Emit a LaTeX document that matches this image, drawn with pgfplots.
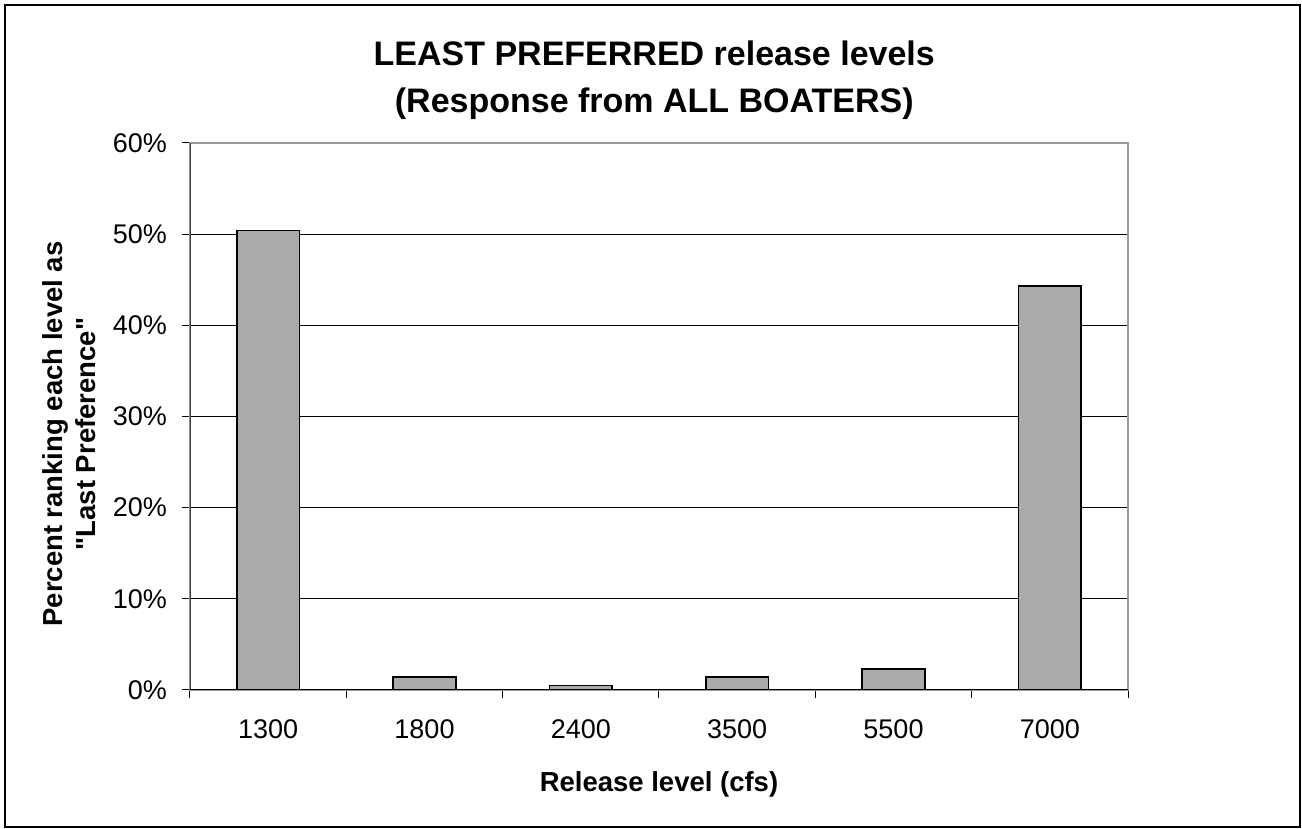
\documentclass[border=0pt]{standalone}
\usepackage{fontspec}
\setmainfont{Liberation Sans}[Ligatures=TeXOff]
\usepackage{pgfplots}
\pgfplotsset{compat=1.18}
\definecolor{barfill}{RGB}{170,170,170}
\begin{document}
\begin{tikzpicture}[x=1pt,y=1pt]
\useasboundingbox (-95pt,-69.5pt) rectangle (556pt,345pt);
\draw[line width=1.2pt] (-92.5pt,-68.5pt) rectangle (555pt,342.5pt);
\begin{axis}[
  at={(0pt,0pt)}, anchor=south west,
  scale only axis, width=469pt, height=273.5pt,
  xmin=-0.5, xmax=5.5, ymin=0, ymax=60,
  axis line style={draw=gray!80, line width=0.6pt},
  ytick={0,10,...,60},
  yticklabel={\pgfmathprintnumber{\tick}\%},
  ytick pos=left,
  tick align=outside,
  major tick length=4pt,
  tick style={black, line width=0.5pt},
  ymajorgrids, grid style={black, line width=0.5pt},
  xtick={-0.5,0.5,...,5.5}, xticklabels={},
  xtick pos=bottom,
  extra x ticks={0,1,2,3,4,5},
  extra x tick labels={1300,1800,2400,3500,5500,7000},
  extra x tick style={major tick length=0pt, grid=none, xticklabel style={yshift=-11.5pt}},
  ticklabel style={font=\fontsize{13.5}{16}\selectfont, black},
  yticklabel style={xshift=-4pt},
  /pgf/number format/assume math mode=true,
  title={LEAST PREFERRED release levels\\(Response from ALL BOATERS)},
  title style={font=\fontsize{17}{23.5}\selectfont\bfseries, align=center, at={(axis description cs:0.495,1)}, anchor=center, yshift=25.5pt},
  xlabel={Release level (cfs)},
  xlabel style={font=\fontsize{13.75}{17}\selectfont\bfseries, at={(axis description cs:0.5,-0.172)}, anchor=center},
  ylabel={Percent ranking each level as\\"Last Preference"},
  ylabel style={font=\fontsize{13.75}{16.5}\selectfont\bfseries, align=center, at={(axis description cs:-0.1285,0.468)}, anchor=center},
  ybar, bar width=0.4,
]
\addplot[fill=barfill, draw=black, line width=0.8pt] coordinates {(0,50.4) (1,1.4) (2,0.5) (3,1.4) (4,2.3) (5,44.3)};
\draw[black!75, line width=0.6pt] (axis cs:-0.5,0) -- (axis cs:-0.5,60);
\draw[black, line width=0.6pt] (axis cs:-0.5,0) -- (axis cs:5.5,0);
\end{axis}
\end{tikzpicture}
\end{document}
